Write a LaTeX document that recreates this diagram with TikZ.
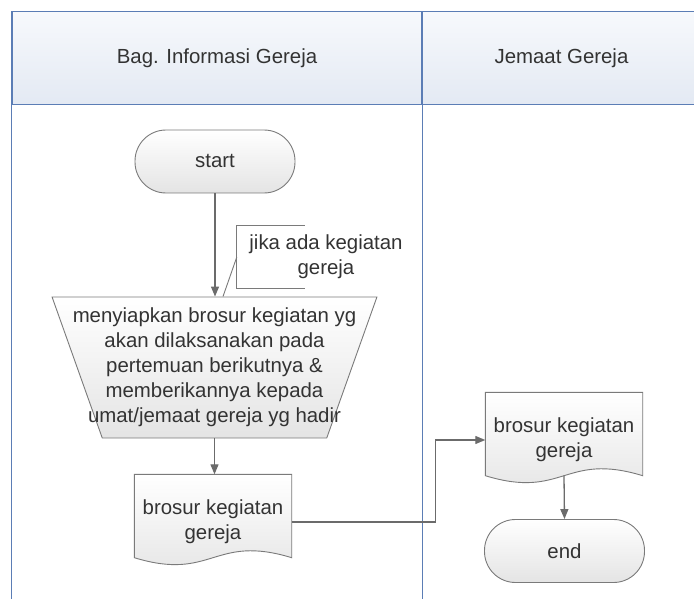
\documentclass[tikz,border=0pt]{standalone}
\usepackage{fontspec}
\setmainfont{Liberation Sans}
\usetikzlibrary{ shapes.geometric, % For the trapezium of the manual step
                 arrows.meta,
                 backgrounds,      % For the brochure outlines behind the text
               }
\definecolor{laneblue}{HTML}{5B7DB5}
\definecolor{headtop}{HTML}{F7F9FC}
\definecolor{headbot}{HTML}{E3E9F3}
\definecolor{boxline}{HTML}{7A7A7A}
\definecolor{boxbot}{HTML}{E4E4E4}
\definecolor{flowgray}{HTML}{6B6B6B}
\definecolor{ink}{HTML}{333333}

\tikzstyle{lanehead} = [rectangle, draw=laneblue, line width=1.4pt, top color=headtop, bottom color=headbot, minimum height=93pt, text=ink]
\tikzstyle{laneline} = [draw=laneblue, line width=1.4pt]
\tikzstyle{terminal} = [rectangle, rounded corners=31pt, draw=boxline, line width=0.9pt, top color=white, bottom color=boxbot, minimum width=160pt, minimum height=63pt, text=ink]
\tikzstyle{manual} = [trapezium, trapezium left angle=102.6, trapezium right angle=102.6, trapezium stretches=true, draw=boxline, line width=0.9pt, top color=white, bottom color=boxbot, minimum width=325pt, minimum height=141pt]
\tikzstyle{manualtext} = [text=ink, align=center]
\tikzstyle{document} = [rectangle, minimum width=157pt, minimum height=95pt, text=ink, align=center]
\tikzstyle{docline} = [draw=boxline, line width=0.9pt, top color=white, bottom color=boxbot]
\tikzstyle{note} = [rectangle, minimum width=178pt, minimum height=62pt, text=ink, align=center]
\tikzstyle{notelink} = [draw=boxline, line width=0.9pt]
\tikzstyle{flow} = [draw=flowgray, line width=1.3pt, -{Triangle[width=8pt, length=10pt]}]

\begin{document}
\begin{tikzpicture}[x=1pt, y=-1pt, font=\fontsize{20.4}{25}\selectfont]
  \useasboundingbox (0, 0) rectangle (694, 599);
  \clip (0, 0) rectangle (694, 599);

  % swimlanes
  \node (lane_1) [lanehead, minimum width=410pt] at (217, 58.3) {Bag. Informasi Gereja};
  \node (lane_2) [lanehead, minimum width=279pt] at (561.5, 58.3) {Jemaat Gereja};
  \draw[laneline] (lane_1.south west) -- ++(0, 500);
  \draw[laneline] (lane_1.south east) -- ++(0, 500);

  \node (start) [terminal] at (215, 161.5) {start};

  \node (prepare) [manual, label={[manualtext]center:{menyiapkan brosur kegiatan yg\\akan dilaksanakan pada\\pertemuan berikutnya \&\\memberikannya kepada\\umat/jemaat gereja yg hadir}}] at (214.5, 367.5) {};
  \draw[flow] (start.south) -- (start.south |- prepare.north);

  \node (note) [note] at (326, 257) {jika ada kegiatan\\gereja};
  \draw[notelink] ([xshift=68pt]note.north west) -- (note.north west) -- (note.south west) -- ([xshift=68pt]note.south west);
  \draw[notelink] (note.west) -- ([xshift=8.5pt]prepare.north);

  \node (doc_1) [document] at (213, 522) {brosur kegiatan\\gereja};
  \draw[flow] (prepare.south) -- (prepare.south |- doc_1.north);

  \node (doc_2) [document] at (564, 440) {brosur kegiatan\\gereja};
  \draw[flow] (doc_1.east) -- ++(143.5, 0) |- (doc_2.west);

  \begin{scope}[on background layer]
    \draw[docline] (doc_1.north west) -- (doc_1.north east) -- ([yshift=12pt]doc_1.south east) .. controls +(-78.5pt, 24pt) and +(78.5pt, -24pt) .. ([yshift=12pt]doc_1.south west) -- cycle;
    \draw[docline] (doc_2.north west) -- (doc_2.north east) -- ([yshift=12pt]doc_2.south east) .. controls +(-78.5pt, 24pt) and +(78.5pt, -24pt) .. ([yshift=12pt]doc_2.south west) -- cycle;
  \end{scope}

  \node (finish) [terminal] at (564.5, 551) {end};
  \draw[flow] ([yshift=12pt]doc_2.south) -- (finish.north);

\end{tikzpicture}
\end{document}
